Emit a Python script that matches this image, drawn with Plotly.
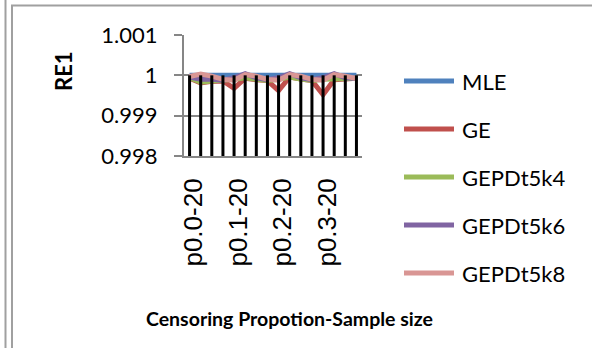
import plotly.graph_objects as go

categories = ["p0.0-20", "p0.0-30", "p0.0-50", "p0.0-100",
              "p0.1-20", "p0.1-30", "p0.1-50", "p0.1-100",
              "p0.2-20", "p0.2-30", "p0.2-50", "p0.2-100",
              "p0.3-20", "p0.3-30", "p0.3-50", "p0.3-100"]
shown_ticks = ["p0.0-20", "p0.1-20", "p0.2-20", "p0.3-20"]

mle = [1.0] * 16
ge = [0.99993, 0.99981, 0.99985, 0.99986, 0.99968, 0.99993, 0.99989, 0.99987,
      0.99962, 0.99996, 0.99991, 0.99987, 0.99952, 0.99989, 0.99991, 0.99993]
k4 = [0.99994, 0.99983, 0.99986, 0.99987, 0.99990, 0.99994, 0.99989, 0.99987,
      0.99990, 0.99996, 0.99991, 0.99987, 0.99990, 0.99991, 0.99991, 0.99993]
k6 = [0.99996, 0.99990, 0.99990, 0.99988, 0.99994, 1.00004, 0.99994, 0.99989,
      0.99994, 1.00004, 0.99994, 0.99989, 0.99994, 1.00004, 0.99994, 0.99992]
k8 = [0.99997, 1.00003, 0.99998, 0.99990, 0.99988, 1.00002, 0.99998, 0.99990,
      0.99988, 1.00002, 0.99998, 0.99990, 0.99988, 1.00002, 0.99998, 0.99992]

series_names = ["MLE", "GE", "GEPDt5k4", "GEPDt5k6", "GEPDt5k8"]
series_colors = ["#4F81BD", "#C0504D", "#9BBB59", "#8064A2", "#D99694"]
series_values = [mle, ge, k4, k6, k8]

y_ticks = [1.001, 1.0, 0.999, 0.998]
y_tick_text = ["1.001", "1", "0.999", "0.998"]
y_range = [0.998, 1.001]

W, H = 592, 348
L, R, T, B = 184, 362, 35, 156


def px(x):
    return (x - L) / (R - L)


def py(y):
    return (B - y) / (B - T)


fig = go.Figure()
for name, vals, col in zip(series_names, series_values, series_colors):
    fig.add_trace(go.Scatter(x=categories, y=vals, mode="lines", name=name,
                             line=dict(color=col, width=5), showlegend=False))

# drop lines from the MLE level down to the axis minimum
dx, dy = [], []
for i, c in enumerate(categories):
    dx += [c, c, None]
    dy += [mle[i], y_range[0], None]
fig.add_trace(go.Scatter(x=dx, y=dy, mode="lines", showlegend=False,
                         line=dict(color="black", width=3), hoverinfo="skip"))

shapes = [
    dict(type="line", xref="paper", yref="paper", x0=px(5.5), x1=px(5.5), y0=py(0), y1=py(H),
         line=dict(color="#A0A0A0", width=2)),
    dict(type="line", xref="paper", yref="paper", x0=px(12), x1=px(12), y0=py(5), y1=py(H),
         line=dict(color="#A0A0A0", width=2)),
    dict(type="line", xref="paper", yref="paper", x0=px(11), x1=px(W), y0=py(5.5), y1=py(5.5),
         line=dict(color="#A0A0A0", width=2)),
]
annotations = [
    dict(text="<b>Censoring Propotion-Sample size</b>", xref="paper", yref="paper",
         x=px(289), y=py(318), xanchor="center", yanchor="middle", showarrow=False,
         font=dict(family="Lato", size=19.5, color="black")),
    dict(text="<b>RE1</b>", xref="paper", yref="paper", textangle=-90,
         x=px(63), y=py(71), xanchor="center", yanchor="middle", showarrow=False,
         font=dict(family="Lato", size=22, color="black")),
]

# legend (line sample + label) laid out like the original
legend_y = [81, 129, 177, 225, 273]
for name, col, ly in zip(series_names, series_colors, legend_y):
    shapes.append(dict(type="line", xref="paper", yref="paper",
                       x0=px(404), x1=px(454), y0=py(ly), y1=py(ly),
                       line=dict(color=col, width=5)))
    annotations.append(dict(text=name, xref="paper", yref="paper", x=px(460), y=py(ly),
                            xanchor="left", yanchor="middle", showarrow=False,
                            font=dict(family="Lato", size=22, color="black")))

fig.update_layout(
    width=W, height=H,
    margin=dict(l=L, r=W - R, t=T, b=H - B),
    paper_bgcolor="white", plot_bgcolor="white",
    shapes=shapes, annotations=annotations,
    showlegend=False,
)
fig.update_xaxes(type="category", categoryorder="array", categoryarray=categories,
                 range=[-0.5, 15.5], tickmode="array", tickvals=shown_ticks,
                 ticktext=shown_ticks, tickangle=-90, showgrid=False,
                 showline=True, linecolor="#868686", linewidth=2, ticks="",
                 tickfont=dict(family="Liberation Sans", size=26, color="black"),
                 ticklabelstandoff=10, ticklabelshift=4)
fig.update_yaxes(range=y_range, tickmode="array", tickvals=y_ticks, ticktext=y_tick_text,
                 showgrid=True, gridcolor="#868686", gridwidth=2, zeroline=False,
                 showline=True, linecolor="#868686", linewidth=2,
                 ticks="outside", ticklen=8, tickcolor="#868686", tickwidth=2,
                 tickfont=dict(family="Lato", size=22, color="black"),
                 ticklabelstandoff=12)

fig.write_html("out.html")
